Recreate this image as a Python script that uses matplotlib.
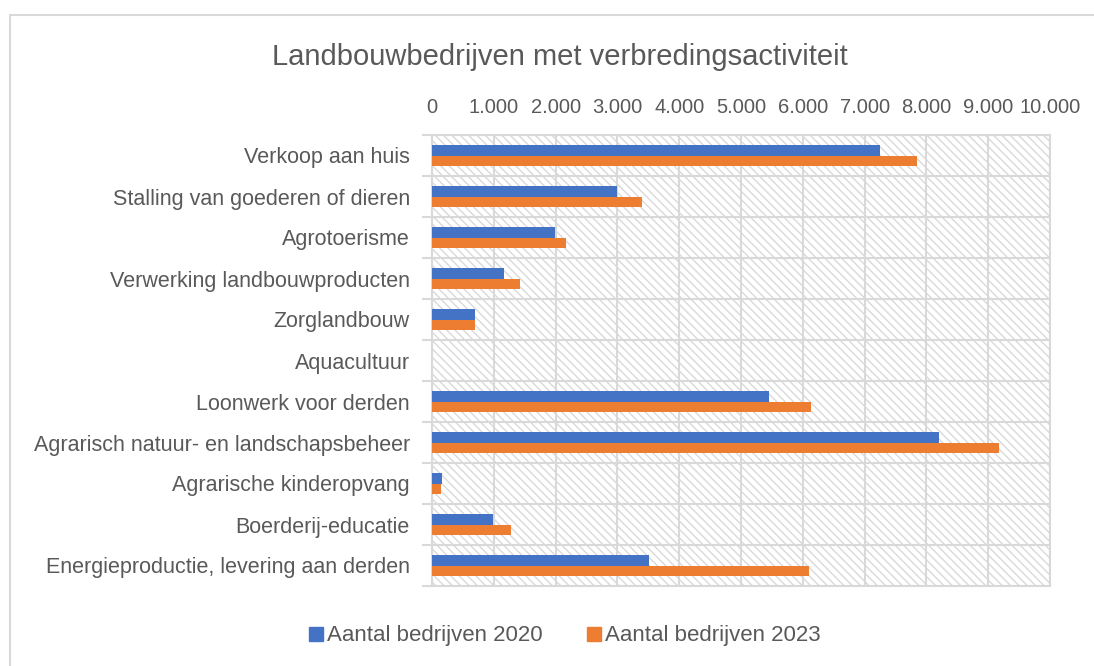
import numpy as np
import matplotlib.pyplot as plt
from matplotlib.patches import Rectangle, Patch

# categories (top to bottom) and values
categories = [
    "Verkoop aan huis",
    "Stalling van goederen of dieren",
    "Agrotoerisme",
    "Verwerking landbouwproducten",
    "Zorglandbouw",
    "Aquacultuur",
    "Loonwerk voor derden",
    "Agrarisch natuur- en landschapsbeheer",
    "Agrarische kinderopvang",
    "Boerderij-educatie",
    "Energieproductie, levering aan derden",
]
bedrijven_2020 = [7250, 2990, 1990, 1170, 690, 0, 5450, 8210, 160, 990, 3510]
bedrijven_2023 = [7850, 3400, 2170, 1430, 690, 0, 6130, 9170, 140, 1280, 6100]
series_names = ["Aantal bedrijven 2020", "Aantal bedrijven 2023"]
x_ticks = [0, 1000, 2000, 3000, 4000, 5000, 6000, 7000, 8000, 9000, 10000]

BLUE = "#4472C4"
ORANGE = "#ED7D31"
GREY_TXT = "#595959"
GRID = "#d9d9d9"

plt.rcParams['font.family'] = ['Liberation Sans', 'DejaVu Sans']
plt.rcParams['hatch.color'] = GRID
plt.rcParams['hatch.linewidth'] = 1.0

fig = plt.figure(figsize=(10.94, 6.66), dpi=100)
ax = fig.add_axes([432 / 1094, 1 - 586 / 666, 618 / 1094, 451 / 666])

# outer chart border
fig.patches.append(Rectangle((10 / 1094, -0.01), 1.0, 1 - 15 / 666 + 0.01,
                             transform=fig.transFigure, fill=False,
                             edgecolor=GRID, lw=1.5))

# hatched plot background
ax.add_patch(Rectangle((0, 0), 1, 1, transform=ax.transAxes, facecolor="white",
                       edgecolor=GRID, hatch="\\\\\\\\", lw=0, zorder=0))

y = np.arange(len(categories))
h = 0.25
ax.barh(y - h / 2, bedrijven_2020, height=h, color=BLUE, zorder=3, label=series_names[0])
ax.barh(y + h / 2, bedrijven_2023, height=h, color=ORANGE, zorder=3, label=series_names[1])

ax.set_xlim(0, 10000)
ax.set_ylim(len(categories) - 0.5, -0.5)

ax.xaxis.tick_top()
ax.set_xticks(x_ticks)
ax.set_xticklabels([f"{v:,}".replace(",", ".") for v in x_ticks])
ax.tick_params(axis="x", length=0, pad=13, labelsize=14.5, labelcolor=GREY_TXT)

ax.set_yticks(y)
ax.set_yticklabels(categories)
ax.tick_params(axis="y", which="major", length=0, pad=16, labelsize=15.5, labelcolor=GREY_TXT)
ax.set_yticks(np.arange(-0.5, len(categories)), minor=True)
ax.tick_params(axis="y", which="minor", length=7, color=GRID, width=1.5)

ax.grid(axis="x", which="major", color=GRID, lw=1.5, zorder=1)
ax.grid(axis="y", which="minor", color=GRID, lw=1.5, zorder=1)
ax.set_axisbelow(True)
for s in ax.spines.values():
    s.set_color(GRID)
    s.set_linewidth(1.5)

fig.text(560 / 1094, 1 - 57 / 666, "Landbouwbedrijven met verbredingsactiviteit",
         ha="center", va="center", fontsize=21, color=GREY_TXT)

handles = [Patch(color=BLUE), Patch(color=ORANGE)]
fig.legend(handles, series_names, loc="center", bbox_to_anchor=(565 / 1094, 1 - 636 / 666),
           ncol=2, frameon=False, fontsize=16, labelcolor=GREY_TXT,
           handlelength=0.6, handleheight=0.6, handletextpad=0.2, columnspacing=2.0)

fig.savefig("out.png", dpi=100)
